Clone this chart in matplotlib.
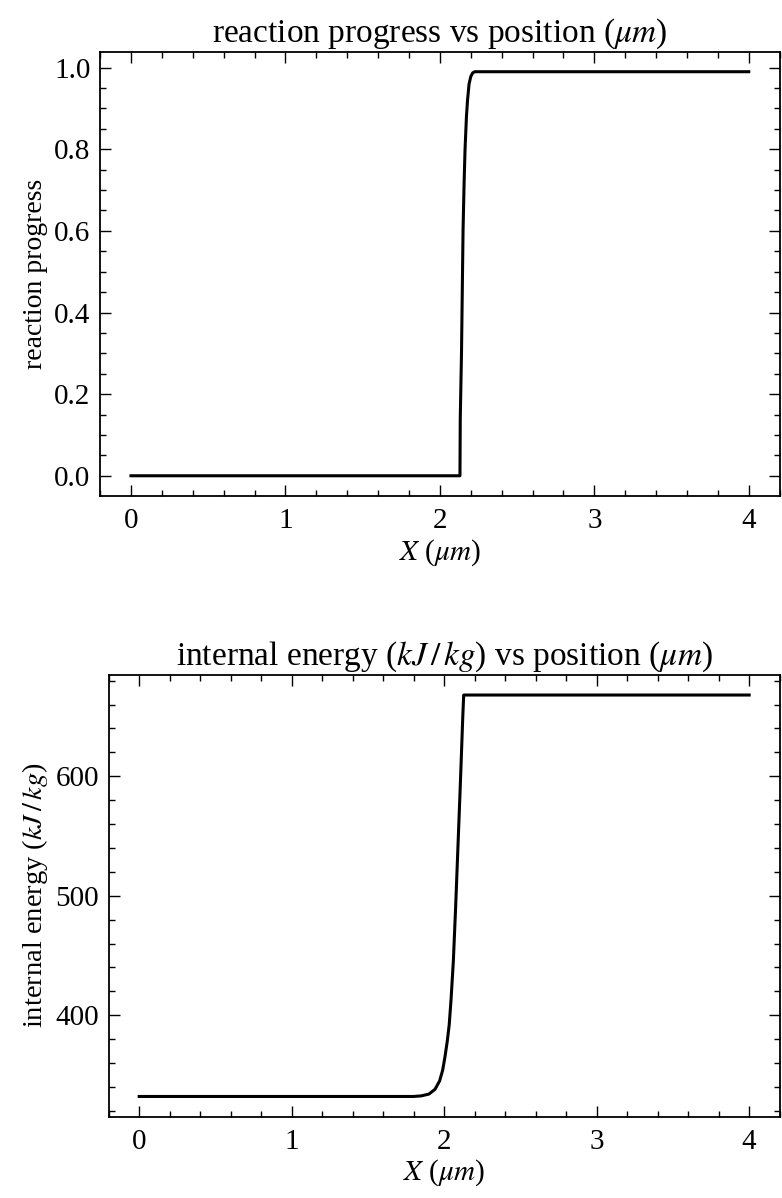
import matplotlib
matplotlib.use("Agg")
import matplotlib.pyplot as plt
from matplotlib.ticker import MultipleLocator

# reaction progress profile
x_progress = [0.0, 2.13, 2.132, 2.14, 2.145, 2.15, 2.157, 2.163, 2.172, 2.179, 2.189, 2.20, 2.212, 2.226, 4.0]
progress = [0.0, 0.0, 0.14, 0.30, 0.45, 0.60, 0.72, 0.80, 0.88, 0.92, 0.96, 0.978, 0.987, 0.99, 0.99]

# internal energy profile (kJ/kg)
x_energy = [0.0, 1.80, 1.85, 1.90, 1.94, 1.97, 1.99, 2.005, 2.02, 2.033, 2.045, 2.06, 2.075, 2.09,
            2.105, 2.115, 2.122, 2.128, 4.0]
energy = [332, 332, 332.5, 334, 338, 345, 354, 365, 378, 392, 413, 445, 490, 540,
          590, 625, 650, 668, 668]

plt.rcParams['font.family'] = ['Liberation Serif', 'DejaVu Serif']
plt.rcParams['mathtext.fontset'] = 'stix'
plt.rcParams['font.size'] = 20
plt.rcParams['axes.titlesize'] = 24
plt.rcParams['xtick.labelsize'] = 21
plt.rcParams['ytick.labelsize'] = 21
plt.rcParams['axes.linewidth'] = 1.3
plt.rcParams['xtick.direction'] = 'in'
plt.rcParams['ytick.direction'] = 'in'
plt.rcParams['xtick.top'] = True
plt.rcParams['ytick.right'] = True
plt.rcParams['xtick.major.size'] = 8
plt.rcParams['ytick.major.size'] = 8
plt.rcParams['xtick.minor.size'] = 4
plt.rcParams['ytick.minor.size'] = 4
plt.rcParams['xtick.major.width'] = 1.0
plt.rcParams['ytick.major.width'] = 1.0
plt.rcParams['xtick.minor.width'] = 1.0
plt.rcParams['ytick.minor.width'] = 1.0
plt.rcParams['xtick.major.pad'] = 9
plt.rcParams['ytick.major.pad'] = 7

fig = plt.figure(figsize=(7.82, 11.98), dpi=100)

# top panel
ax1 = fig.add_axes([0.128, 0.586, 0.869, 0.371])
ax1.plot(x_progress, progress, color='black', linewidth=2.2)
ax1.set_title(r'reaction progress vs position ($\mu m$)', pad=7)
ax1.set_xlabel(r'$X$ ($\mu m$)', fontsize=21, labelpad=2)
ax1.set_ylabel('reaction progress')
ax1.xaxis.set_minor_locator(MultipleLocator(0.2))
ax1.yaxis.set_major_locator(MultipleLocator(0.2))
ax1.yaxis.set_minor_locator(MultipleLocator(0.05))

# bottom panel
ax2 = fig.add_axes([0.139, 0.068, 0.858, 0.3686])
ax2.plot(x_energy, energy, color='black', linewidth=2.2)
ax2.set_title(r'internal energy ($kJ\,/\,kg$) vs position ($\mu m$)', pad=7)
ax2.set_xlabel(r'$X$ ($\mu m$)', fontsize=21, labelpad=2)
ax2.set_ylabel(r'internal energy ($kJ\,/\,kg$)', fontsize=20.5)
ax2.xaxis.set_minor_locator(MultipleLocator(0.2))
ax2.yaxis.set_major_locator(MultipleLocator(100))
ax2.yaxis.set_minor_locator(MultipleLocator(20))

fig.savefig('out.png', dpi=100)
